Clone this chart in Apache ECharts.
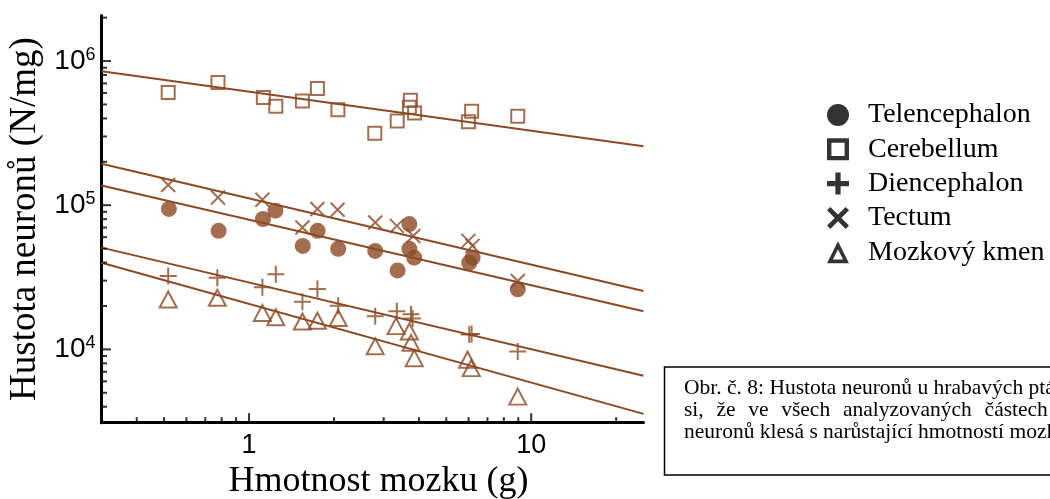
<!DOCTYPE html>
<html><head><meta charset="utf-8">
<script src="https://cdn.jsdelivr.net/npm/echarts@6/dist/echarts.min.js"></script>
<style>html,body{margin:0;padding:0;background:#fff}#c{width:1050px;height:499px}</style>
</head><body><div id="c"></div>
<script>
// ---------------- data ----------------
const telX = [0.52, 0.78, 1.12, 1.24, 1.55, 1.75, 2.07, 2.80, 3.36, 3.70, 3.70, 3.85, 6.03, 6.20, 8.96];
const telY = [9.42e4, 6.64e4, 8.02e4, 9.16e4, 5.22e4, 6.64e4, 4.98e4, 4.82e4, 3.53e4, 7.40e4, 4.98e4, 4.33e4, 3.99e4, 4.33e4, 2.61e4];

const cerX = [0.517, 0.776, 1.124, 1.244, 1.546, 1.747, 2.065, 2.79, 3.35, 3.73, 3.70, 3.86, 6.15, 5.99, 8.96];
const cerY = [6.05e5, 7.11e5, 5.59e5, 4.85e5, 5.29e5, 6.46e5, 4.60e5, 3.16e5, 3.84e5, 5.35e5, 4.78e5, 4.37e5, 4.49e5, 3.80e5, 4.14e5];

const dieX = [0.517, 0.772, 1.115, 1.244, 1.546, 1.747, 2.07, 2.80, 3.34, 3.75, 3.80, 6.03, 6.15, 8.96];
const dieY = [3.23e4, 3.14e4, 2.70e4, 3.32e4, 2.14e4, 2.62e4, 2.01e4, 1.70e4, 1.84e4, 1.75e4, 1.64e4, 1.27e4, 1.28e4, 9.68e3];

const tecX = [0.517, 0.776, 1.115, 1.546, 1.747, 2.06, 2.80, 3.34, 3.82, 5.99, 6.19, 8.96];
const tecY = [1.38e5, 1.13e5, 1.09e5, 7.0e4, 9.42e4, 9.31e4, 7.58e4, 7.19e4, 6.12e4, 5.66e4, 5.22e4, 2.98e4];

const mozX = [0.517, 0.772, 1.115, 1.244, 1.546, 1.747, 2.07, 2.80, 3.32, 3.70, 3.75, 3.85, 5.95, 6.13, 8.96];
const mozY = [2.22e4, 2.28e4, 1.79e4, 1.67e4, 1.56e4, 1.58e4, 1.65e4, 1.05e4, 1.45e4, 1.33e4, 1.11e4, 8.69e3, 8.47e3, 7.41e3, 4.70e3];

// fitted power-law lines (values at the two ends of the x axis)
const fitX   = [0.3, 25];
const fitCer = [8.5e5, 2.56e5];
const fitTec = [1.94e5, 2.54e4];
const fitTel = [1.37e5, 1.84e4];
const fitDie = [5.08e4, 6.56e3];
const fitMoz = [3.99e4, 3.57e3];

const seriesNames = ['Telencephalon', 'Cerebellum', 'Diencephalon', 'Tectum', 'Mozkový kmen'];

// axes
const X_MIN = 0.3, X_MAX = 25, Y_MIN = 3100, Y_MAX = 2.07e6;
const xMajorTicks = [1, 10];
const xMinorTicks = [0.4, 0.5, 0.6, 0.7, 0.8, 0.9, 2, 3, 4, 5, 6, 7, 8, 9, 20];
const yMajorTicks = [1e4, 1e5, 1e6];
const yMinorTicks = [4e3, 5e3, 6e3, 7e3, 8e3, 9e3, 2e4, 3e4, 4e4, 5e4, 6e4, 7e4, 8e4, 9e4,
                     2e5, 3e5, 4e5, 5e5, 6e5, 7e5, 8e5, 9e5, 2e6];

const xTitle = 'Hmotnost mozku (g)';
const yTitle = 'Hustota neuronů (N/mg)';
const captionLine1 = 'Obr. č. 8: Hustota neuronů u hrabavých ptáků';
const captionLine2 = ['si,', 'že', 've', 'všech', 'analyzovaných', 'částech'];
const captionLine3 = 'neuronů klesá s narůstající hmotností mozku';

// ---------------- styling ----------------
const C = '#8c4a24';
const SERIF = '"Liberation Serif", "Times New Roman", serif';
const SANS = '"Liberation Sans", Arial, sans-serif';
const AXW = 3;
const CAP_FONT = '21.5px ' + SERIF;

const pts = (xs, ys) => xs.map((x, i) => [x, ys[i]]);
const isIn = (v, arr) => arr.some(t => Math.abs(Math.log10(v) - Math.log10(t)) < 1e-6);

const PLUS = 'path://M0,5L10,5M5,0L5,10';
const CROSS = 'path://M0,0L10,10M10,0L0,10';
const hollow = { color: 'rgba(0,0,0,0)', borderColor: C, borderWidth: 2 };

const L_CIRCLE = 'circle';
const L_SQUARE = 'path://M0,0H20V20H0Z M4,4V16H16V4Z';
const L_PLUS = 'path://M8,0H13V8H21V13H13V21H8V13H0V8H8Z';
const L_CROSS = 'path://M0,3L3,0L10,7L17,0L20,3L13,10L20,17L17,20L10,13L3,20L0,17L7,10Z';
const L_TRI = 'path://M11,0L22,22L0,22Z M11,8.2L5.9,18.3L16.1,18.3Z';

function tickSeries(data, size, offset) {
  return {
    type: 'scatter', data: data, symbol: 'rect', symbolSize: size, symbolOffset: offset,
    itemStyle: { color: '#000' }, clip: false, silent: true, z: 6, animation: false
  };
}
function fitSeries(ys) {
  return {
    type: 'line', data: pts(fitX, ys), symbol: 'none', silent: true, z: 2,
    lineStyle: { color: C, width: 2 }, animation: false
  };
}
function capText(text, x, y) {
  return { type: 'text', x: x, y: y, z: 11,
    style: { text: text, font: CAP_FONT, fill: '#000', textVerticalAlign: 'middle', verticalAlign: 'middle' } };
}

const option = {
  backgroundColor: '#fff',
  animation: false,
  grid: { left: 101.5, right: 406.5, top: 15.5, bottom: 76.3, outerBoundsMode: 'none', containLabel: false },
  xAxis: {
    type: 'log', logBase: 10, min: X_MIN, max: X_MAX,
    axisLine: { show: true, onZero: false, lineStyle: { color: '#000', width: AXW } },
    axisTick: { show: false },
    splitLine: { show: false },
    axisLabel: {
      color: '#000', fontFamily: SANS, fontSize: 27, margin: 9,
      formatter: v => isIn(v, xMajorTicks) ? String(Math.round(v)) : ''
    },
    name: xTitle, nameLocation: 'middle', nameGap: 40,
    nameTextStyle: { fontFamily: SERIF, fontSize: 36, color: '#000', padding: [0, 0, 0, 12] }
  },
  yAxis: {
    type: 'log', logBase: 10, min: Y_MIN, max: Y_MAX,
    axisLine: { show: true, onZero: false, lineStyle: { color: '#000', width: AXW } },
    axisTick: { show: false },
    splitLine: { show: false },
    axisLabel: {
      color: '#000', margin: 6,
      formatter: v => isIn(v, yMajorTicks) ? '{b|10}{s|' + Math.round(Math.log10(v)) + '}' : '',
      rich: {
        b: { fontFamily: SANS, fontSize: 28, color: '#000', lineHeight: 30 },
        s: { fontFamily: SANS, fontSize: 18, color: '#000', verticalAlign: 'top', lineHeight: 30 }
      }
    },
    name: yTitle, nameLocation: 'middle', nameGap: 50, nameRotate: 90,
    nameTextStyle: { fontFamily: SERIF, fontSize: 37, color: '#000' }
  },
  legend: {
    orient: 'vertical', left: 822, top: 96, padding: 5,
    itemWidth: 22, itemHeight: 22, itemGap: 6.3,
    textStyle: { fontFamily: SERIF, fontSize: 28, color: '#000', padding: [0, 0, 0, 14] },
    selectedMode: false,
    data: [
      { name: seriesNames[0], icon: L_CIRCLE, itemStyle: { color: '#000', borderWidth: 0 } },
      { name: seriesNames[1], icon: L_SQUARE, itemStyle: { color: '#000', borderWidth: 0 } },
      { name: seriesNames[2], icon: L_PLUS, itemStyle: { color: '#000', borderWidth: 0 } },
      { name: seriesNames[3], icon: L_CROSS, itemStyle: { color: '#000', borderWidth: 0 } },
      { name: seriesNames[4], icon: L_TRI, itemStyle: { color: '#000', borderWidth: 0 } }
    ]
  },
  series: [
    fitSeries(fitCer), fitSeries(fitTec), fitSeries(fitTel), fitSeries(fitDie), fitSeries(fitMoz),
    { name: seriesNames[0], type: 'scatter', data: pts(telX, telY), symbol: 'circle', symbolSize: 16,
      itemStyle: { color: C }, z: 4 },
    { name: seriesNames[1], type: 'scatter', data: pts(cerX, cerY), symbol: 'rect', symbolSize: 13,
      itemStyle: hollow, z: 4 },
    { name: seriesNames[2], type: 'scatter', data: pts(dieX, dieY), symbol: PLUS, symbolSize: 17,
      itemStyle: hollow, z: 4 },
    { name: seriesNames[3], type: 'scatter', data: pts(tecX, tecY), symbol: CROSS, symbolSize: 14,
      itemStyle: hollow, z: 4 },
    { name: seriesNames[4], type: 'scatter', data: pts(mozX, mozY), symbol: 'triangle', symbolSize: [17, 16],
      itemStyle: hollow, z: 4 },
    tickSeries(xMinorTicks.map(v => [v, Y_MIN]), [2, 4], [0, -(AXW / 2 + 2)]),
    tickSeries(xMajorTicks.map(v => [v, Y_MIN]), [2, 8], [0, -(AXW / 2 + 4)]),
    tickSeries(yMinorTicks.map(v => [X_MIN, v]), [4, 2], [AXW / 2 + 2, 0]),
    tickSeries(yMajorTicks.map(v => [X_MIN, v]), [8, 2], [AXW / 2 + 4, 0])
  ],
  graphic: [
    { type: 'rect', shape: { x: 664.5, y: 367, width: 500, height: 108 },
      style: { fill: '#fff', stroke: '#000', lineWidth: 1.5 }, z: 10 },
    capText(captionLine1, 684, 388),
    ...[684, 716.4, 748.2, 781.2, 842.9, 984.6].map((x, i) => capText(captionLine2[i], x, 410)),
    capText(captionLine3, 684, 432)
  ]
};

const chart = echarts.init(document.getElementById('c'), null, { renderer: 'canvas' });
chart.setOption(option);
</script>
</body></html>
